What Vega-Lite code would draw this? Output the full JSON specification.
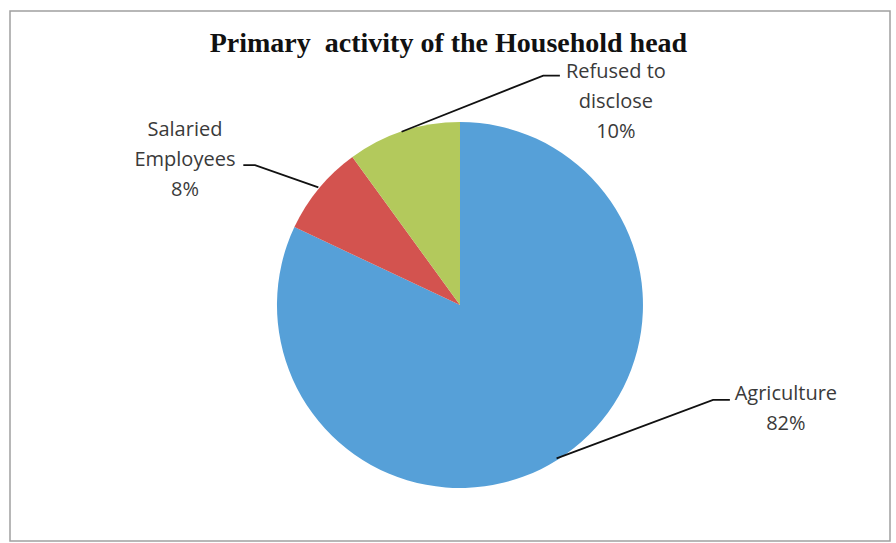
{
  "$schema": "https://vega.github.io/schema/vega-lite/v6.json",
  "autosize": "none",
  "width": 880,
  "height": 530,
  "padding": {"left": 10, "top": 11, "right": 6, "bottom": 2},
  "background": "white",
  "config": {"view": {"stroke": "#a0a0a0", "strokeWidth": 1.5}},
  "datasets": {
    "slices": [
      {"activity": "Agriculture", "share": 82, "ord": 1},
      {"activity": "Salaried Employees", "share": 8, "ord": 2},
      {"activity": "Refused to disclose", "share": 10, "ord": 3}
    ],
    "leaders": [
      {"series": "Refused", "pt": 1, "x": -31.9, "y": 94.7},
      {"series": "Refused", "pt": 2, "x": 45.5, "y": 125.4},
      {"series": "Refused", "pt": 3, "x": 54.6, "y": 125.4},
      {"series": "Salaried", "pt": 1, "x": -77.4, "y": 64.3},
      {"series": "Salaried", "pt": 2, "x": -112.0, "y": 76.5},
      {"series": "Salaried", "pt": 3, "x": -118.4, "y": 76.5},
      {"series": "Agriculture", "pt": 1, "x": 52.8, "y": -83.8},
      {"series": "Agriculture", "pt": 2, "x": 138.3, "y": -51.9},
      {"series": "Agriculture", "pt": 3, "x": 147.5, "y": -51.9}
    ],
    "labels": [
      {"label": "Refused to\ndisclose\n10%", "x": 85.2, "y": 127.6},
      {"label": "Salaried\nEmployees\n8%", "x": -150.3, "y": 95.6},
      {"label": "Agriculture\n82%", "x": 178.1, "y": -48.4}
    ],
    "title": [
      {"label": "Primary\u00a0 activity of the Household head", "x": -6.3, "y": 142.6}
    ]
  },
  "layer": [
    {
      "data": {"name": "slices"},
      "mark": {"type": "arc", "radius": 183, "stroke": null},
      "encoding": {
        "x": {"datum": 0, "type": "quantitative", "scale": {"domain": [-245.9, 235.0], "nice": false, "zero": false}, "axis": null},
        "y": {"datum": 0, "type": "quantitative", "scale": {"domain": [-129.0, 160.7], "nice": false, "zero": false}, "axis": null},
        "theta": {"field": "share", "type": "quantitative", "stack": true},
        "order": {"field": "ord", "type": "quantitative"},
        "color": {
          "field": "activity", "type": "nominal", "legend": null,
          "scale": {"domain": ["Agriculture", "Salaried Employees", "Refused to disclose"], "range": ["#56A0D8", "#D3534F", "#B3C95C"]}
        }
      }
    },
    {
      "data": {"name": "leaders"},
      "mark": {"type": "line", "color": "#111111", "strokeWidth": 1.8},
      "encoding": {
        "x": {"field": "x", "type": "quantitative"},
        "y": {"field": "y", "type": "quantitative"},
        "detail": {"field": "series"},
        "order": {"field": "pt", "type": "quantitative"}
      }
    },
    {
      "data": {"name": "labels"},
      "mark": {"type": "text", "font": "Open Sans", "fontSize": 20, "color": "#3a3a3a", "lineBreak": "\n", "lineHeight": 30, "align": "center", "baseline": "middle"},
      "encoding": {
        "x": {"field": "x", "type": "quantitative"},
        "y": {"field": "y", "type": "quantitative"},
        "text": {"field": "label", "type": "nominal"}
      }
    },
    {
      "data": {"name": "title"},
      "mark": {"type": "text", "font": "Liberation Serif", "fontWeight": "bold", "fontSize": 28, "color": "#111111", "align": "center", "baseline": "middle"},
      "encoding": {
        "x": {"field": "x", "type": "quantitative"},
        "y": {"field": "y", "type": "quantitative"},
        "text": {"field": "label", "type": "nominal"}
      }
    }
  ]
}
